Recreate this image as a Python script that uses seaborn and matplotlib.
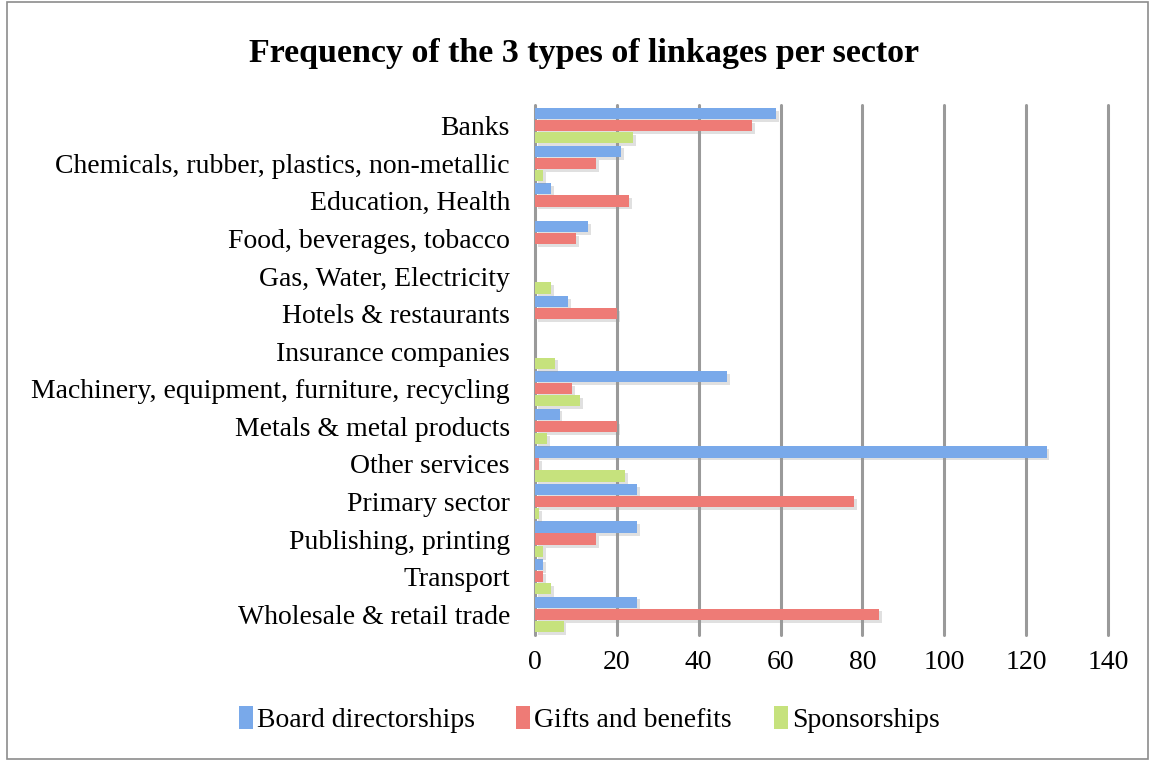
import matplotlib
matplotlib.use("Agg")
import matplotlib.pyplot as plt
import matplotlib.patheffects as pe
from matplotlib.patches import Rectangle
import pandas as pd
import seaborn as sns

sectors = [
    "Banks",
    "Chemicals, rubber, plastics, non-metallic",
    "Education, Health",
    "Food, beverages, tobacco",
    "Gas, Water, Electricity",
    "Hotels & restaurants",
    "Insurance companies",
    "Machinery, equipment, furniture, recycling",
    "Metals & metal products",
    "Other services",
    "Primary sector",
    "Publishing, printing",
    "Transport",
    "Wholesale & retail trade",
]
board = [59, 21, 4, 13, 0, 8, 0, 47, 6, 125, 25, 25, 2, 25]
gifts = [53, 15, 23, 10, 0, 20, 0, 9, 20, 1, 78, 15, 2, 84]
sponsor = [24, 2, 0, 0, 4, 0, 5, 11, 3, 22, 1, 2, 4, 7]
series = ["Board directorships", "Gifts and benefits", "Sponsorships"]
colors = ["#79a9ea", "#ee7b76", "#c6e27d"]

df = pd.DataFrame({"sector": sectors, series[0]: board, series[1]: gifts, series[2]: sponsor})
long_df = df.melt(id_vars="sector", var_name="type", value_name="count")

sns.set_theme(style="white")
plt.rcParams["font.family"] = ["Liberation Serif", "DejaVu Serif"]
plt.rcParams["text.color"] = "black"

fig = plt.figure(figsize=(11.55, 7.61), dpi=100)
ax = fig.add_axes([0.4632, 0.1656, 0.4961, 0.6964])

sns.barplot(
    data=long_df, y="sector", x="count", hue="type", order=sectors,
    hue_order=series, palette=colors, orient="h", width=0.96, gap=0.06,
    saturation=1, linewidth=0, ax=ax, legend=True,
)
for bar in ax.patches:
    if bar.get_width() > 0:
        bar.set_path_effects([
            pe.SimplePatchShadow(offset=(2, -2), shadow_rgbFace="#999999", alpha=0.3),
            pe.Normal(),
        ])

ax.set_xlim(0, 140)
ax.set_ylim(13.55, -0.55)
ax.set_xticks(range(0, 141, 20))
ax.xaxis.grid(True, color="#9a9a9a", linewidth=2.2)
for gl in ax.xaxis.get_gridlines():
    gl.set_clip_on(False)
ax.set_axisbelow(True)
for s in ax.spines.values():
    s.set_visible(False)
ax.tick_params(axis="both", length=0, labelsize=20, colors="black")
ax.tick_params(axis="y", pad=18)
ax.tick_params(axis="x", pad=11)
ax.set_xlabel("")
ax.set_ylabel("")

fig.suptitle("Frequency of the 3 types of linkages per sector", x=0.506, y=0.95,
             fontsize=24.5, fontweight="bold", color="black")

handles, labels = ax.get_legend_handles_labels()
ax.legend_.remove()
leg = fig.legend(handles, labels, loc="center", bbox_to_anchor=(0.51, 0.054), ncol=3,
                 frameon=False, fontsize=20, handlelength=0.5, handleheight=0.9,
                 handletextpad=0.15, columnspacing=1.5)
for t in leg.get_texts():
    t.set_color("black")

fig.patches.append(Rectangle((0.006, 0.003), 0.988, 0.994, transform=fig.transFigure,
                             fill=False, edgecolor="#8c8c8c", linewidth=1.2))

fig.savefig("out.png", dpi=100)
